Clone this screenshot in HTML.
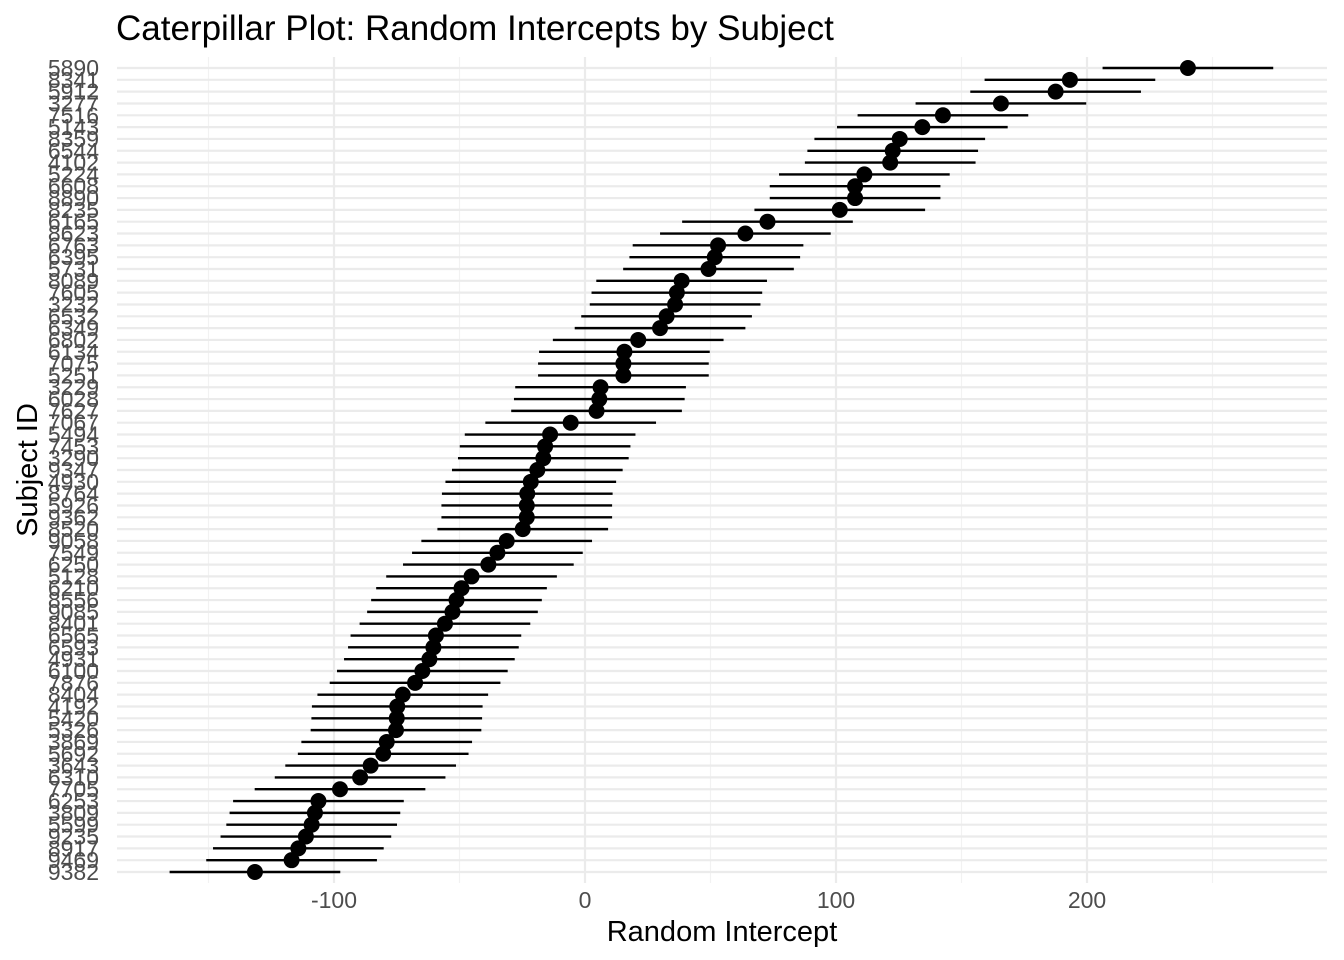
<!DOCTYPE html>
<html><head><meta charset="utf-8"><style>
html,body{margin:0;padding:0;background:#fff;}
svg{display:block;font-family:"Liberation Sans",Arial,sans-serif;}
</style></head><body>
<svg id="chart" width="1344" height="960">
<text x="116" y="40" font-size="35" fill="#000">Caterpillar Plot: Random Intercepts by Subject</text>
<text x="722" y="941" font-size="29" text-anchor="middle" fill="#000">Random Intercept</text>
<text transform="translate(37,470) rotate(-90)" font-size="29" text-anchor="middle" fill="#000">Subject ID</text>
<g id="grid"></g><g id="marks"></g><g id="labels"></g>
</svg>
<script>
const subjects=["5890","8341","5912","3277","7516","5143","8359","6544","4102","5224","6608","8890","8235","6165","8623","6763","6395","5731","8089","7605","3232","6532","6349","6802","6134","7075","5251","3229","6028","7627","7067","5494","7453","3290","9347","4930","8764","5926","9362","8520","9058","7549","6250","5128","6210","8556","9085","8401","6565","6593","4931","6100","7876","8404","4192","5420","5326","3869","5692","3643","6310","7705","6253","3809","5599","9235","8917","9469","9382"];
const intercepts=[240.2,193.2,187.5,165.7,142.6,134.4,125.4,122.6,121.6,111.3,107.6,107.6,101.5,72.7,63.9,53,51.7,49.2,38.5,36.6,35.9,32.5,29.9,21.2,15.7,15.3,15.3,6.2,5.7,4.6,-5.7,-13.9,-15.9,-16.6,-19,-21.6,-23,-23.2,-23.2,-24.8,-31.2,-34.9,-38.5,-45.2,-49.2,-51.2,-52.8,-55.8,-59.4,-60.4,-62,-64.8,-67.7,-72.6,-74.8,-75,-75.3,-79,-80.4,-85.4,-89.6,-97.6,-106.2,-107.6,-108.9,-111.2,-114.2,-116.9,-131.5];
const ciHalf=[34,34,34,34,34,34,34,34,34,34,34,34,34,34,34,34,34,34,34,34,34,34,34,34,34,34,34,34,34,34,34,34,34,34,34,34,34,34,34,34,34,34,34,34,34,34,34,34,34,34,34,34,34,34,34,34,34,34,34,34,34,34,34,34,34,34,34,34,34];
const xMajor=[-100,0,100,200];
const xMinor=[-150,-50,50,150,250];
const xTickLabels=["-100","0","100","200"];

const NS="http://www.w3.org/2000/svg";
const L=117,R=1327,T=57,B=883;
function xs(v){return 585+2.51*v;}
function ys(i){return 68+(872-68)/(subjects.length-1)*i;}
function mk(tag,attrs,parent){const e=document.createElementNS(NS,tag);for(const k in attrs)e.setAttribute(k,attrs[k]);parent.appendChild(e);return e;}
const grid=document.getElementById('grid'),marks=document.getElementById('marks'),labels=document.getElementById('labels');
xMinor.forEach(v=>{const e=mk('line',{x1:xs(v),x2:xs(v),y1:T,y2:B,stroke:'#f2f2f2','stroke-width':1.2},grid);

});
xMajor.forEach((v,k)=>{const e=mk('line',{x1:xs(v),x2:xs(v),y1:T,y2:B,stroke:'#ebebeb','stroke-width':2.2},grid);


const t=mk('text',{x:xs(v),y:908,'font-size':23,'text-anchor':'middle',fill:'#4d4d4d'},labels);t.textContent=xTickLabels[k];

});
subjects.forEach((s,i)=>{const y=ys(i);
const g=mk('line',{x1:L,x2:R,y1:y,y2:y,stroke:'#ebebeb','stroke-width':2.2},grid);


const t=mk('text',{x:99,y:y+8,'font-size':23,'text-anchor':'end',fill:'#4d4d4d'},labels);t.textContent=s;

});
subjects.forEach((s,i)=>{const y=ys(i),v=intercepts[i],h=ciHalf[i];
const l=mk('line',{x1:xs(v-h),x2:xs(v+h),y1:y,y2:y,stroke:'#000','stroke-width':2.4},marks);


const c=mk('circle',{cx:xs(v),cy:y,r:8,fill:'#000'},marks);

});
</script>
</body></html>
